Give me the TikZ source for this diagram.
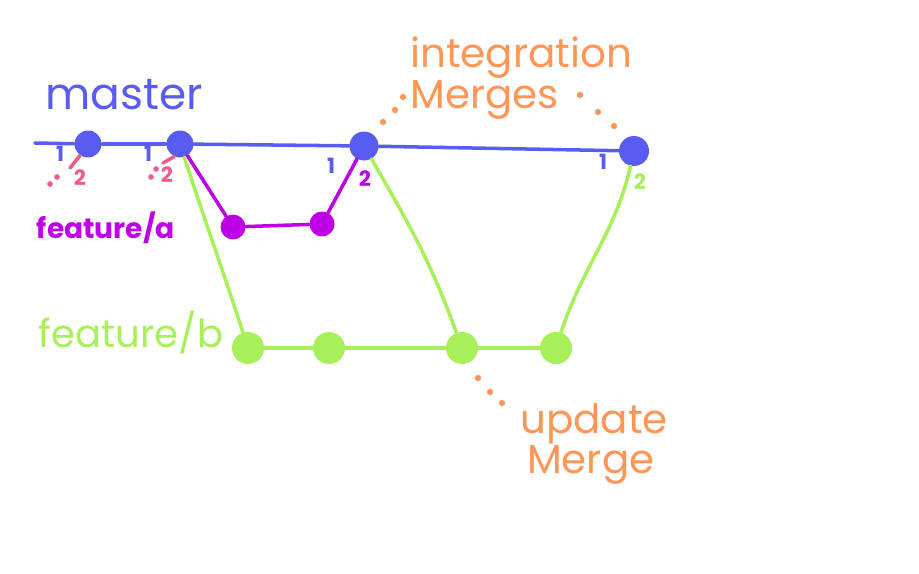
\documentclass[tikz,border=0pt]{standalone}
\usepackage{fontspec}
\setmainfont{Poppins}
\usetikzlibrary{positioning}

\definecolor{masterblue}{RGB}{88,92,240}
\definecolor{fapurple}{RGB}{190,0,230}
\definecolor{fbgreen}{RGB}{168,240,90}
\definecolor{noteorange}{RGB}{255,150,85}
\definecolor{ghostpink}{RGB}{240,90,140}

\tikzset{
  commit/.style={circle, fill=#1, inner sep=0pt, minimum size=0.54cm},
  branchline/.style={draw=#1, line width=2pt, line cap=round, line join=round},
  parentnum/.style={text=#1, inner sep=0pt, font=\bfseries\fontsize{12}{12}\selectfont},
  branchname/.style={text=#1, inner sep=0pt},
  note/.style={text=noteorange, inner sep=0pt, align=left,
    font=\fontsize{23}{26}\selectfont},
  trail/.style={fill=noteorange},
}

\begin{document}
\begin{tikzpicture}[x=0.02cm, y=-0.02cm] % 1 单位 = 参考图 1 像素
  \useasboundingbox (0,0) rectangle (919,574);
  % master 分支
  \coordinate (mstart) at (35,143);
  \node[commit=masterblue] (m1) at (88,144) {};
  \node[commit=masterblue] (m2) at (180,144) {};
  \node[commit=masterblue, minimum size=0.58cm] (m3) at (364,146) {};
  \node[commit=masterblue, minimum size=0.6cm] (m4) at (634,151) {};
  \draw[branchline=masterblue] (mstart) -- (m1) -- (m2) -- (m3) -- (m4);
  \node[branchname=masterblue, font=\fontsize{25}{25}\selectfont]
    (mastername) at (124,95) {master};

  % feature/a
  \node[commit=fapurple, minimum size=0.5cm] (a1) at (233,227) {};
  \node[commit=fapurple, minimum size=0.5cm] (a2) at (322,224) {};
  \draw[branchline=fapurple] (m2) -- (a1) -- (a2) -- (m3);
  \node[branchname=fapurple, font=\bfseries\fontsize{16}{16}\selectfont]
    (aname) at (106,228) {feature/a};

  % feature/b
  \foreach \n/\x in {1/248, 2/329, 3/462, 4/556} {
    \node[commit=fbgreen, minimum size=0.64cm] (b\n) at (\x,348) {};
  }
  \draw[branchline=fbgreen] (m2) to[out=-72, in=108] (b1);
  \draw[branchline=fbgreen] (b1) -- (b2) -- (b3) -- (b4);
  \draw[branchline=fbgreen] (m3) to[out=-60, in=110] (b3);
  \draw[branchline=fbgreen] (b4) to[out=72, in=-103] (m4);
  \node[branchname=fbgreen, font=\fontsize{22}{22}\selectfont]
    (bname) at (131,333) {feature/b};

  % 父提交编号
  \foreach \c/\x/\y in {m1/60/154, m2/148/154, m3/331/166, m4/603/162} {
    \node[parentnum=masterblue] (\c one) at (\x,\y) {1};
  }
  \node[parentnum=ghostpink] (m1two) at (80,178) {2};
  \node[parentnum=ghostpink] (m2two) at (167,175) {2};
  \node[parentnum=fapurple] (m3two) at (365,179) {2};
  \node[parentnum=fbgreen] (m4two) at (640,182) {2};
  % 看不见的第二父提交
  \coordinate (g1) at (70,168);
  \coordinate (g2) at (163,163);
  \draw[branchline=ghostpink] (m1.-125) -- (g1);
  \draw[branchline=ghostpink] (m2.-115) -- (g2);
  \foreach \x/\y in {50/184, 57/177, 151/177, 156/169} {
    \fill[ghostpink] (\x,\y) circle (1.6pt);
  }

  % 注释
  \node[note, anchor=west] (intnote) at (410,78) {integration\\[-3pt]Merges};
  \node[note, anchor=west] (updnote) at (520,444) {update\\[-3pt]\,Merge};
  \foreach \x/\y in {383/122, 395/110, 403/97, 580/95, 598/112, 614/126,
                     478/378, 490/392, 502/403} {
    \fill[trail] (\x,\y) circle (1.8pt);
  }
\end{tikzpicture}
\end{document}
